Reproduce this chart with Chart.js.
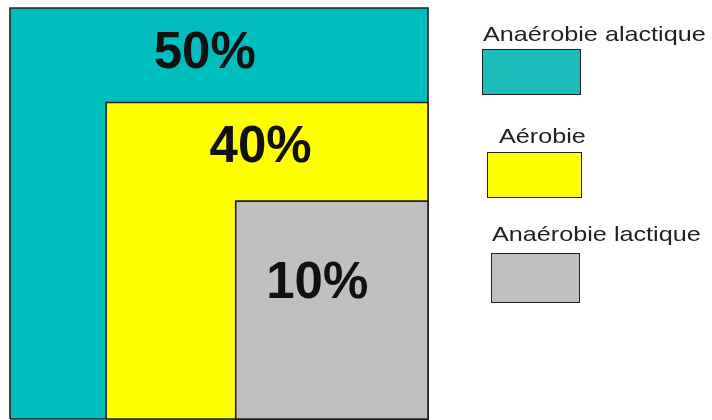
<!DOCTYPE html>
<html>
<head>
<meta charset="utf-8">
<script src="https://cdn.jsdelivr.net/npm/chart.js"></script>
<style>
  body { margin: 0; background: #fff; }
  #wrap { position: relative; width: 712px; height: 420px; }
  .leg-text {
    position: absolute;
    font: 21px "Liberation Sans", Arial, sans-serif;
    line-height: 21px;
    color: #222;
    transform: scaleX(1.2);
    transform-origin: 0 0;
    white-space: nowrap;
  }
  .leg-box { position: absolute; box-sizing: border-box; border: 1.5px solid #222; }
</style>
</head>
<body>
<div id="wrap">
  <canvas id="grafica" width="712" height="420"></canvas>
  <div id="leyenda"></div>
</div>
<script>
// Datos
const categorias = ['Anaérobie alactique', 'Aérobie', 'Anaérobie lactique'];
const porcentajes = [50, 40, 10];
const inicioX = [0, 23, 54];     // borde izquierdo de cada rectángulo (0-100)
const alturaY = [100, 77, 53];   // borde superior de cada rectángulo (0-100)

// Estilos
const colores = ['#00bebe', '#ffff00', '#c0c0c0'];
const colorLeyenda = ['#1cbcbc', '#ffff00', '#c0c0c0'];
const posLeyenda = [
  { tx: 483, ty: 23, bx: 482, by: 49, bw: 99, bh: 46 },
  { tx: 499, ty: 125, bx: 487, by: 152, bw: 95, bh: 46 },
  { tx: 492, ty: 223, bx: 491, by: 253, bw: 89, bh: 50 }
];
// donde va el porcentaje dentro de su franja visible
const anclaX = [0.466, 0.48, 0.424];  // fracción del ancho
const baseY = [60, 59, 97];           // px bajo el borde superior

// Leyenda: texto encima de la caja
const leyenda = document.getElementById('leyenda');
categorias.forEach((cat, i) => {
  const p = posLeyenda[i];
  leyenda.innerHTML += `
    <div class="leg-text" style="left:${p.tx}px;top:${p.ty}px">${cat}</div>
    <div class="leg-box" style="left:${p.bx}px;top:${p.by}px;width:${p.bw}px;height:${p.bh}px;background:${colorLeyenda[i]}"></div>
  `;
});

// Rectángulos anidados como líneas cerradas rellenas
const datasets = categorias.map((cat, i) => ({
  label: cat,
  data: [
    { x: inicioX[i], y: 0 },
    { x: inicioX[i], y: alturaY[i] },
    { x: 100, y: alturaY[i] },
    { x: 100, y: 0 },
    { x: inicioX[i], y: 0 }
  ],
  fill: 'shape',
  backgroundColor: colores[i],
  borderColor: '#222',
  borderWidth: 1.6,
  pointRadius: 0,
  tension: 0,
  clip: false,
  order: categorias.length - i
}));

const etiquetas = {
  id: 'etiquetas',
  afterDatasetsDraw(chart) {
    const { ctx, scales: { x, y } } = chart;
    ctx.save();
    ctx.font = 'bold 51px "Liberation Sans", Arial, sans-serif';
    ctx.fillStyle = '#111';
    ctx.textAlign = 'center';
    ctx.textBaseline = 'alphabetic';
    porcentajes.forEach((p, i) => {
      const izq = x.getPixelForValue(inicioX[i]);
      const der = x.getPixelForValue(100);
      const arriba = y.getPixelForValue(alturaY[i]);
      ctx.fillText(p + '%', izq + (der - izq) * anclaX[i], arriba + baseY[i]);
    });
    ctx.restore();
  }
};

new Chart(document.getElementById('grafica'), {
  type: 'line',
  data: { datasets },
  options: {
    responsive: false,
    animation: false,
    layout: { padding: { left: 10, right: 284, top: 8, bottom: 1 } },
    plugins: { legend: { display: false }, tooltip: { enabled: false } },
    scales: {
      x: { type: 'linear', min: 0, max: 100, display: false },
      y: { min: 0, max: 100, display: false }
    }
  },
  plugins: [etiquetas]
});
</script>
</body>
</html>
